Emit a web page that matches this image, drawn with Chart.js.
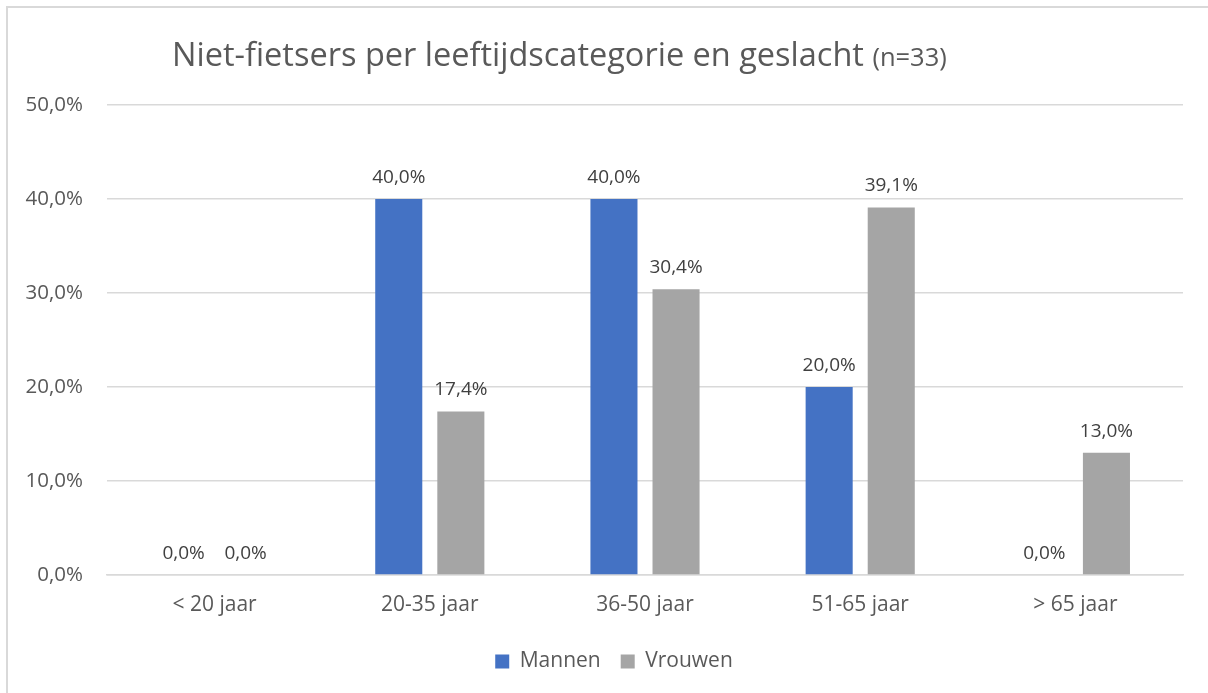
<!DOCTYPE html>
<html>
<head>
<meta charset="utf-8">
<script src="https://cdn.jsdelivr.net/npm/chart.js@4.4.1/dist/chart.umd.min.js"></script>
<style>
  html, body { margin: 0; padding: 0; background: #fff; overflow: hidden; }
  #wrap { position: relative; width: 1208px; height: 693px; }
  #frame { position: absolute; left: 6px; top: 6px; width: 1300px; height: 800px;
           border-left: 2px solid #D9D9D9; border-top: 2px solid #D9D9D9; box-sizing: border-box; }
  canvas { position: absolute; left: 0; top: 0; }
</style>
</head>
<body>
<div id="wrap">
  <div id="frame"></div>
  <canvas id="c" width="1208" height="693"></canvas>
</div>
<script>
const categories = ['< 20 jaar', '20-35 jaar', '36-50 jaar', '51-65 jaar', '> 65 jaar'];
const mannen = [0.0, 40.0, 40.0, 20.0, 0.0];
const vrouwen = [0.0, 17.4, 30.4, 39.1, 13.0];
const seriesNames = ['Mannen', 'Vrouwen'];
const titleMain = 'Niet-fietsers per leeftijdscategorie en geslacht';
const titleSub = '(n=33)';
const yMax = 50;
const yStep = 10;

const FONT = '"Open Sans", "Segoe UI", sans-serif';
const fmt = v => v.toFixed(1).replace('.', ',') + '%';

const titlePlugin = {
  id: 'titleDraw',
  afterDraw(chart) {
    const ctx = chart.ctx;
    ctx.save();
    ctx.fillStyle = '#595959';
    ctx.textBaseline = 'alphabetic';
    ctx.textAlign = 'left';
    ctx.font = '32.5px ' + FONT;
    const x0 = 172, y0 = 66;
    ctx.fillText(titleMain, x0, y0);
    const w = ctx.measureText(titleMain + ' ').width;
    ctx.font = '25.5px ' + FONT;
    ctx.fillText(titleSub, x0 + w, y0);
    ctx.restore();
  }
};

const labelPlugin = {
  id: 'dataLabels',
  afterDatasetsDraw(chart) {
    const ctx = chart.ctx;
    ctx.save();
    ctx.fillStyle = '#404040';
    ctx.font = '19px ' + FONT;
    ctx.textAlign = 'center';
    ctx.textBaseline = 'alphabetic';
    chart.data.datasets.forEach((ds, i) => {
      const meta = chart.getDatasetMeta(i);
      meta.data.forEach((el, j) => {
        ctx.fillText(fmt(ds.data[j]), el.x, el.y - 16);
      });
    });
    ctx.restore();
  }
};

const legendShift = {
  id: 'legendShift',
  afterLayout(chart) {
    const lg = chart.legend;
    if (!lg) return;
    const shift = 614 - (lg.left + lg.right) / 2;
    lg.left += shift;
    lg.right += shift;
  }
};

new Chart(document.getElementById('c'), {
  type: 'bar',
  data: {
    labels: categories,
    datasets: [
      { label: seriesNames[0], data: mannen, backgroundColor: '#4472C4' },
      { label: seriesNames[1], data: vrouwen, backgroundColor: '#A5A5A5' }
    ]
  },
  options: {
    responsive: false,
    animation: false,
    devicePixelRatio: 1,
    categoryPercentage: 0.577,
    barPercentage: 0.758,
    layout: { padding: { top: 105, right: 25, bottom: 11, left: 0 } },
    scales: {
      x: {
        grid: { display: false, drawTicks: false },
        border: { display: true, color: '#D9D9D9', width: 1.5 },
        ticks: { color: '#595959', font: { family: FONT, size: 21 }, padding: 17 },
        afterFit(scale) { scale.height = 56; }
      },
      y: {
        min: 0, max: yMax,
        grid: { color: '#D9D9D9', lineWidth: 1.5, drawTicks: false },
        border: { display: false },
        ticks: { stepSize: yStep, color: '#595959', font: { family: FONT, size: 20.5 }, padding: 24,
                 callback: v => fmt(v) },
        afterFit(scale) { scale.width = 107; }
      }
    },
    plugins: {
      legend: {
        position: 'bottom',
        labels: { color: '#595959', font: { family: FONT, size: 21 }, boxWidth: 14, boxHeight: 14, padding: 20 }
      },
      tooltip: { enabled: false },
      title: { display: false }
    }
  },
  plugins: [titlePlugin, labelPlugin, legendShift]
});
</script>
</body>
</html>
